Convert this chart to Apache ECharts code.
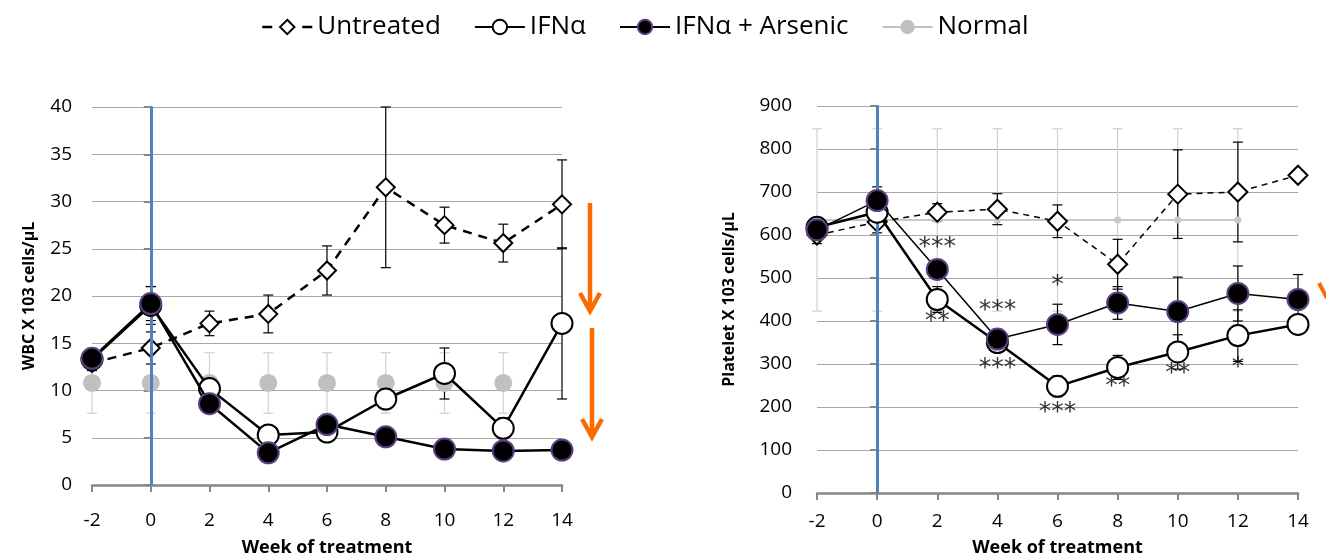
<!DOCTYPE html>
<html>
<head>
<meta charset="utf-8">
<script src="https://cdn.jsdelivr.net/npm/echarts@6/dist/echarts.min.js"></script>
<style>
	html, body { margin: 0; padding: 0; background: #fff; }
	#main { width: 1326px; height: 560px; }
</style>
</head>
<body>
<div id="main"></div>
<script>

/*横轴：治疗周数*/
var weeks = [-2, 0, 2, 4, 6, 8, 10, 12, 14];
var normalWeeks = [-2, 0, 2, 4, 6, 8, 10, 12];

/*WBC 左图*/
var wbcUntreated = [12.9, 14.5, 17.1, 18.1, 22.7, 31.5, 27.5, 25.6, 29.7];
var wbcUntreatedErr = [0.8, 1.7, 1.3, 2.0, 2.6, 8.5, 1.9, 2.0, 4.7];
var wbcIfn = [13.3, 19.0, 10.2, 5.3, 5.6, 9.1, 11.8, 6.0, 17.1];
var wbcIfnErr = [1.0, 2.0, 0.8, 0.5, 0.5, 0.9, 2.7, 1.1, 8.0];
var wbcArsenic = [13.4, 19.2, 8.6, 3.4, 6.4, 5.1, 3.8, 3.6, 3.7];
var wbcArsenicErr = [1.0, 1.8, 0.6, 0.4, 0.5, 0.4, 0.3, 0.3, 0.3];
var wbcNormal = [10.8, 10.8, 10.8, 10.8, 10.8, 10.8, 10.8, 10.8];
var wbcNormalErr = [3.2, 3.2, 3.2, 3.2, 3.2, 3.2, 3.2, 3.2];

/*Platelet 右图*/
var pltUntreated = [600, 630, 653, 660, 632, 532, 695, 700, 739];
var pltUntreatedErr = [20, 25, 20, 36, 38, 58, 103, 116, 10];
var pltIfn = [618, 653, 450, 350, 248, 292, 328, 366, 392];
var pltIfnErr = [15, 25, 30, 20, 24, 28, 40, 60, 15];
var pltArsenic = [612, 680, 520, 358, 392, 442, 422, 464, 450];
var pltArsenicErr = [15, 32, 22, 20, 47, 38, 80, 64, 58];
var pltNormal = [635, 635, 635, 635, 635, 635, 635, 635];
var pltNormalErr = [212, 212, 212, 212, 212, 212, 212, 212];

/*显著性标记*/
var starWeeks = [2, 2, 4, 4, 6, 6, 8, 10, 12];
var starValues = [570, 398, 425, 290, 483, 188, 247, 277, 293];
var starLabels = ['***', '**', '***', '***', '*', '***', '**', '**', '*'];

var seriesNames = ['Untreated', 'IFNα', 'IFNα + Arsenic', 'Normal'];

function pairs(xs, ys){
	var out = [];
	for (var i = 0; i < ys.length; i++) {
		out.push([xs[i], ys[i]]);
	}
	return out;
}

function errPairs(xs, ys, es){
	var out = [];
	for (var i = 0; i < ys.length; i++) {
		out.push([xs[i], ys[i] - es[i], ys[i] + es[i]]);
	}
	return out;
}

/*误差线*/
function renderErr(params, api){
	var x = api.value(0);
	var lo = api.coord([x, api.value(1)]);
	var hi = api.coord([x, api.value(2)]);
	var w = 5;
	var style = { stroke: api.visual('color'), lineWidth: 1.2 };
	return {
		type : 'group',
		children : [
			{ type: 'line', shape: { x1: lo[0], y1: lo[1], x2: hi[0], y2: hi[1] }, style: style },
			{ type: 'line', shape: { x1: lo[0] - w, y1: lo[1], x2: lo[0] + w, y2: lo[1] }, style: style },
			{ type: 'line', shape: { x1: hi[0] - w, y1: hi[1], x2: hi[0] + w, y2: hi[1] }, style: style }
		]
	};
}

function errSeries(idx, xs, ys, es, color, z){
	return {
		type : 'custom',
		xAxisIndex : idx,
		yAxisIndex : idx,
		renderItem : renderErr,
		itemStyle : { color: color },
		data : errPairs(xs, ys, es),
		silent : true,
		z : z
	};
}

function xAxisFor(idx, margin, gap){
	return {
		type : 'value',
		gridIndex : idx,
		min : -2,
		max : 14,
		interval : 2,
		name : 'Week of treatment',
		nameLocation : 'middle',
		nameGap : gap,
		nameTextStyle : { fontSize: 18, fontWeight: 'bold', color: '#000', fontFamily: 'Open Sans' },
		axisLine : { lineStyle: { color: '#868686', width: 2.5 } },
		axisTick : { show: true, length: 7, lineStyle: { color: '#868686', width: 2 } },
		axisLabel : { margin: margin, fontSize: 19, color: '#000', fontFamily: 'Open Sans' },
		splitLine : { show: false }
	};
}

function yAxisFor(idx, max, interval, name, gap, margin){
	return {
		type : 'value',
		gridIndex : idx,
		min : 0,
		max : max,
		interval : interval,
		name : name,
		nameLocation : 'middle',
		nameGap : gap,
		nameTextStyle : { fontSize: 16, fontWeight: 'bold', color: '#000', fontFamily: 'Open Sans' },
		axisLine : { show: true, lineStyle: { color: '#868686', width: 2.5 } },
		axisTick : { show: true, length: 7, lineStyle: { color: '#868686', width: 2 } },
		axisLabel : { margin: margin, fontSize: 19, color: '#000', fontFamily: 'Open Sans' },
		splitLine : { lineStyle: { color: '#a6a6a6', width: 1.2 } }
	};
}

function buildSeries(){
	var s = [];
	var star = [];
	for (var i = 0; i < starWeeks.length; i++) {
		star.push({ value: [starWeeks[i], starValues[i]], name: starLabels[i] });
	}

	/*左图 WBC*/
	s.push(errSeries(0, normalWeeks, wbcNormal, wbcNormalErr, '#d0d0d0', 1));
	s.push(errSeries(0, weeks, wbcUntreated, wbcUntreatedErr, '#000', 2));
	s.push(errSeries(0, weeks, wbcIfn, wbcIfnErr, '#000', 2));
	s.push(errSeries(0, weeks, wbcArsenic, wbcArsenicErr, '#000', 2));
	s.push({
		name : 'Untreated', type : 'line', xAxisIndex : 0, yAxisIndex : 0,
		data : pairs(weeks, wbcUntreated),
		symbol : 'diamond', symbolSize : 18,
		itemStyle : { color: '#fff', borderColor: '#000', borderWidth: 2 },
		lineStyle : { color: '#000', width: 2.5, type: [9, 7] },
		z : 4
	});
	s.push({
		name : 'Normal', type : 'line', xAxisIndex : 0, yAxisIndex : 0,
		data : pairs(normalWeeks, wbcNormal),
		symbol : 'circle', symbolSize : 18,
		itemStyle : { color: '#c0c0c0', borderWidth: 0 },
		lineStyle : { color: '#c0c0c0', width: 0 },
		z : 3
	});
	s.push({
		name : 'IFNα', type : 'line', xAxisIndex : 0, yAxisIndex : 0,
		data : pairs(weeks, wbcIfn),
		symbol : 'circle', symbolSize : 21,
		itemStyle : { color: '#fff', borderColor: '#000', borderWidth: 2 },
		lineStyle : { color: '#000', width: 2.5 },
		z : 5
	});
	s.push({
		name : 'IFNα + Arsenic', type : 'line', xAxisIndex : 0, yAxisIndex : 0,
		data : pairs(weeks, wbcArsenic),
		symbol : 'circle', symbolSize : 21,
		itemStyle : { color: '#000', borderColor: '#5b3f80', borderWidth: 2 },
		lineStyle : { color: '#000', width: 2.5 },
		z : 6
	});

	/*右图 Platelet*/
	s.push(errSeries(1, normalWeeks, pltNormal, pltNormalErr, '#d0d0d0', 1));
	s.push(errSeries(1, weeks, pltUntreated, pltUntreatedErr, '#000', 2));
	s.push(errSeries(1, weeks, pltIfn, pltIfnErr, '#000', 2));
	s.push(errSeries(1, weeks, pltArsenic, pltArsenicErr, '#000', 2));
	s.push({
		name : 'Normal', type : 'line', xAxisIndex : 1, yAxisIndex : 1,
		data : pairs(normalWeeks, pltNormal),
		symbol : 'circle', symbolSize : 7,
		itemStyle : { color: '#c8c8c8', borderWidth: 0 },
		lineStyle : { color: '#c8c8c8', width: 2 },
		z : 3
	});
	s.push({
		name : 'Untreated', type : 'line', xAxisIndex : 1, yAxisIndex : 1,
		data : pairs(weeks, pltUntreated),
		symbol : 'diamond', symbolSize : 19,
		itemStyle : { color: '#fff', borderColor: '#000', borderWidth: 2 },
		lineStyle : { color: '#000', width: 1.5, type: [6, 5] },
		z : 4
	});
	s.push({
		name : 'IFNα', type : 'line', xAxisIndex : 1, yAxisIndex : 1,
		data : pairs(weeks, pltIfn),
		symbol : 'circle', symbolSize : 21,
		itemStyle : { color: '#fff', borderColor: '#000', borderWidth: 2 },
		lineStyle : { color: '#000', width: 2.5 },
		z : 5
	});
	s.push({
		name : 'IFNα + Arsenic', type : 'line', xAxisIndex : 1, yAxisIndex : 1,
		data : pairs(weeks, pltArsenic),
		symbol : 'circle', symbolSize : 21,
		itemStyle : { color: '#000', borderColor: '#5b3f80', borderWidth: 2 },
		lineStyle : { color: '#000', width: 1.5 },
		z : 6
	});
	s.push({
		type : 'scatter', xAxisIndex : 1, yAxisIndex : 1,
		data : star, symbolSize : 0, silent : true,
		label : {
			show : true, position : 'inside',
			formatter : function(p){ return p.name; },
			fontSize : 25, color : '#000', fontFamily : 'DejaVu Sans', fontWeight : 'normal'
		},
		z : 7
	});

	/*第0周 蓝色竖线*/
	for (var g = 0; g < 2; g++) {
		s.push({
			type : 'line', xAxisIndex : g, yAxisIndex : g,
			data : [[0, 0]], symbol : 'none', silent : true,
			lineStyle : { width: 0 },
			markLine : {
				silent : true, symbol : 'none', animation : false,
				label : { show: false },
				lineStyle : { color: '#4f81bd', width: 3, type: 'solid' },
				data : [{ xAxis: 0 }]
			},
			z : 8
		});
	}
	return s;
}

function drawChart(){
	var chart = echarts.init(document.getElementById('main'));
	var orange = '#ff6a00';
	var arrowStyle = { stroke: orange, lineWidth: 4.5, fill: null };
	var option = {
		animation : false,
		backgroundColor : '#fff',
		legend : {
			data : [
				{ name: 'Untreated', lineStyle: { color: '#000', width: 2.5, type: [10, 30] } },
				'IFNα',
				'IFNα + Arsenic',
				{ name: 'Normal', lineStyle: { color: '#c0c0c0', width: 2 } }
			],
			top : 9,
			left : 256,
			itemWidth : 50,
			itemHeight : 18,
			itemGap : 33,
			textStyle : { fontSize: 26, color: '#000', fontFamily: 'Open Sans' }
		},
		grid : [
			{ left: 92, top: 107, width: 470, height: 378, outerBoundsMode: 'none' },
			{ left: 817, top: 106, width: 481, height: 387, outerBoundsMode: 'none' }
		],
		xAxis : [ xAxisFor(0, 26, 54), xAxisFor(1, 19, 46) ],
		yAxis : [
			yAxisFor(0, 40, 5, 'WBC X 103 cells/μL', 55, 20),
			yAxisFor(1, 900, 100, 'Platelet X 103 cells/μL', 80, 25)
		],
		series : buildSeries(),
		graphic : [
			{ type: 'line', shape: { x1: 590, y1: 203, x2: 590, y2: 310 }, style: arrowStyle },
			{ type: 'polyline', shape: { points: [[580, 293], [590, 311], [600, 293]] }, style: arrowStyle },
			{ type: 'line', shape: { x1: 592, y1: 328, x2: 592, y2: 435 }, style: arrowStyle },
			{ type: 'polyline', shape: { points: [[582, 419], [592, 437], [602, 419]] }, style: arrowStyle },
			{ type: 'line', shape: { x1: 1319, y1: 283, x2: 1327, y2: 298 }, style: { stroke: orange, lineWidth: 4 } }
		]
	};
	chart.setOption(option);
}

drawChart();

</script>
</body>
</html>
